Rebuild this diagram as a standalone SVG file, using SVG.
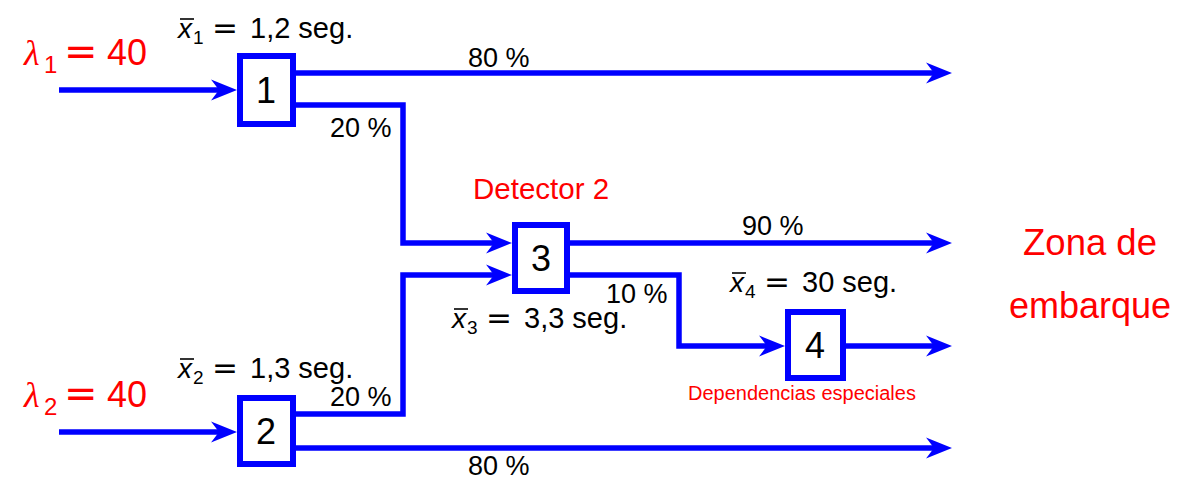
<svg xmlns="http://www.w3.org/2000/svg" width="1187" height="501" viewBox="0 0 1187 501">
<style>
.t{font-family:"Liberation Sans",Arial,sans-serif;fill:#000}
.r{fill:#f00}
.lbl{font-size:27px}
.v{font-size:29px}
.it{font-style:italic;font-size:28px}
.sub{font-size:19px}
.eq{font-family:"DejaVu Sans",sans-serif;font-size:31px}
.ol{stroke:#000;stroke-width:1.6}
.box{fill:#fff;stroke:#0000ff;stroke-width:6}
.num{font-size:36px;text-anchor:middle}
.c{fill:none;stroke:#0000ff;stroke-width:5.5;stroke-linejoin:miter;stroke-linecap:butt}
</style>
<defs>
<marker id="ah" markerUnits="userSpaceOnUse" markerWidth="26" markerHeight="24" viewBox="0 0 26 24" refX="10" refY="12" orient="auto">
<path d="M0,1.5 L26,12 L0,22.5 L8,12 Z" fill="#0000ff"/>
</marker>
</defs>
<rect width="1187" height="501" fill="#fff"/>
<g id="connectors">
<path class="c" d="M59,90 H221" marker-end="url(#ah)"/>
<path class="c" d="M293,73 H936" marker-end="url(#ah)"/>
<path class="c" d="M293,105 H403 V243 H496" marker-end="url(#ah)"/>
<path class="c" d="M59,432 H221" marker-end="url(#ah)"/>
<path class="c" d="M293,414 H403 V275 H496" marker-end="url(#ah)"/>
<path class="c" d="M293,448 H936" marker-end="url(#ah)"/>
<path class="c" d="M567,243 H936" marker-end="url(#ah)"/>
<path class="c" d="M567,275 H679 V346 H769" marker-end="url(#ah)"/>
<path class="c" d="M843,346 H936" marker-end="url(#ah)"/>
</g>
<g id="node1">
<rect class="box" x="240" y="56" width="53" height="68"/>
<text class="t num" x="266" y="103">1</text>
</g>
<g id="node2">
<rect class="box" x="240" y="398" width="53" height="66"/>
<text class="t num" x="266" y="444">2</text>
</g>
<g id="node3">
<rect class="box" x="515" y="225" width="52" height="66"/>
<text class="t num" x="541" y="271">3</text>
</g>
<g id="node4">
<rect class="box" x="788" y="312" width="55" height="66"/>
<text class="t num" x="815" y="358">4</text>
</g>
<g id="labels">
<text class="t r" font-size="36" y="65"><tspan x="24" font-family="Liberation Serif,serif" font-style="italic">λ</tspan><tspan x="44" y="73" font-size="24">1</tspan><tspan x="64" y="65" font-family="DejaVu Sans,sans-serif" font-size="40">=</tspan><tspan x="107">40</tspan></text>
<text class="t r" font-size="36" y="407"><tspan x="24" font-family="Liberation Serif,serif" font-style="italic">λ</tspan><tspan x="44" y="415" font-size="24">2</tspan><tspan x="64" y="407" font-family="DejaVu Sans,sans-serif" font-size="40">=</tspan><tspan x="107">40</tspan></text>
<line class="ol" x1="180" y1="19" x2="194" y2="19"/>
<text class="t v" y="38"><tspan x="178" class="it">x</tspan><tspan x="193" y="44" class="sub">1</tspan><tspan x="212" y="38" class="eq">=</tspan><tspan x="250">1,2 seg.</tspan></text>
<line class="ol" x1="180" y1="359" x2="194" y2="359"/>
<text class="t v" y="378"><tspan x="178" class="it">x</tspan><tspan x="193" y="384" class="sub">2</tspan><tspan x="212" y="378" class="eq">=</tspan><tspan x="250">1,3 seg.</tspan></text>
<line class="ol" x1="454" y1="309" x2="468" y2="309"/>
<text class="t v" y="328"><tspan x="452" class="it">x</tspan><tspan x="467" y="334" class="sub">3</tspan><tspan x="486" y="328" class="eq">=</tspan><tspan x="524">3,3 seg.</tspan></text>
<line class="ol" x1="732" y1="273" x2="746" y2="273"/>
<text class="t v" y="292"><tspan x="730" class="it">x</tspan><tspan x="745" y="298" class="sub">4</tspan><tspan x="764" y="292" class="eq">=</tspan><tspan x="802">30 seg.</tspan></text>
<text class="t lbl" x="468" y="67">80 %</text>
<text class="t lbl" x="330" y="137">20 %</text>
<text class="t lbl" x="330" y="406">20 %</text>
<text class="t lbl" x="468" y="475">80 %</text>
<text class="t lbl" x="742" y="235">90 %</text>
<text class="t lbl" x="606" y="303">10 %</text>
<text class="t r" font-size="29.5" x="473" y="199">Detector 2</text>
<text class="t r" font-size="20" x="688" y="400">Dependencias especiales</text>
<text class="t r" font-size="36.5" x="1090" y="255" text-anchor="middle">Zona de</text>
<text class="t r" font-size="36" x="1090" y="318" text-anchor="middle">embarque</text>
</g>
</svg>
